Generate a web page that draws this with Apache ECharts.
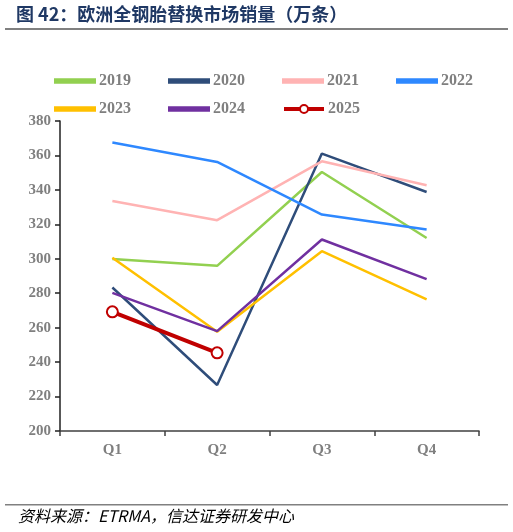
<!DOCTYPE html>
<html><head><meta charset="utf-8">
<script src="https://cdn.jsdelivr.net/npm/echarts@6/dist/echarts.min.js"></script>
<style>html,body{margin:0;padding:0;background:#fff}#c{width:513px;height:532px}</style>
</head><body><div id="c"></div>
<script>
const categories = ['Q1','Q2','Q3','Q4'];
const y2019 = [299.8, 295.9, 350.4, 312.1];
const y2020 = [283.3, 226.7, 361.1, 338.8];
const y2021 = [333.6, 322.4, 356.6, 342.7];
const y2022 = [367.5, 356.2, 325.7, 317.0];
const y2023 = [300.6, 257.6, 304.4, 276.4];
const y2024 = [280.2, 258.0, 311.2, 288.2];
const y2025 = [269.2, 245.4];
const seriesNames = ['2019','2020','2021','2022','2023','2024','2025'];
const seriesData = [y2019, y2020, y2021, y2022, y2023, y2024, y2025];
const colors = ['#92D050','#2F4D7A','#FFB3B3','#2E88FF','#FFC000','#7030A0','#C00000'];

const chart = echarts.init(document.getElementById('c'), null, {renderer:'canvas'});
const legendPos = [[54,73],[168,73],[282,73],[396,73],[54,101],[168,101],[282,101]];
const legends = seriesNames.map((n,i)=>{
  const isLast = n==='2025';
  const lg = {
    data:[n], left:legendPos[i][0], top:legendPos[i][1], padding:0,
    itemWidth:40, itemHeight: isLast ? 10 : 3.5, itemGap:0,
    textStyle:{fontFamily:'Liberation Serif', fontWeight:'bold', fontSize:16, color:'#7F7F7F', padding:[0,0,0,-1]}
  };
  if (isLast) { lg.lineStyle = {width:4}; }
  else { lg.icon = 'rect'; }
  return lg;
});
const series = seriesNames.map((n,i)=>{
  const isLast = n==='2025';
  return {
    name:n, type:'line', data:seriesData[i],
    symbol: isLast ? 'emptyCircle' : 'none',
    symbolSize: isLast ? 11 : 0,
    showSymbol: isLast,
    lineStyle:{color:colors[i], width: isLast ? 4 : 2.5},
    itemStyle:{color:colors[i], borderColor:colors[i], borderWidth:1.5},
    z: isLast ? 10 : 2,
    animation:false
  };
});
chart.setOption({
  animation:false,
  color:colors,
  legend: legends,
  grid:{left:60, right:34, top:121, bottom:101},
  xAxis:{
    type:'category', data:categories, boundaryGap:true,
    axisLine:{lineStyle:{color:'#404040', width:1.5}},
    axisTick:{show:true, length:5, lineStyle:{color:'#404040', width:1.5}},
    axisLabel:{fontFamily:'Liberation Serif', fontWeight:'bold', fontSize:15, color:'#7F7F7F', margin:12}
  },
  yAxis:{
    type:'value', min:200, max:380, interval:20,
    splitLine:{show:false},
    axisLine:{show:true, lineStyle:{color:'#202020', width:1.5}},
    axisTick:{show:true, inside:false, length:5, lineStyle:{color:'#202020', width:1.5}},
    axisLabel:{fontFamily:'Liberation Serif', fontWeight:'bold', fontSize:15, color:'#7F7F7F', margin:9}
  },
  series: series,
  graphic:[
    {type:'text', left:16, top:5, style:{text:'图 42：欧洲全钢胎替换市场销量（万条）', font:'bold 18px "Noto Sans CJK SC", sans-serif', fill:'#1F3864'}},
    {type:'rect', shape:{x:5, y:28, width:503, height:2}, style:{fill:'#808080'}},
    {type:'rect', shape:{x:5, y:504, width:503, height:1.5}, style:{fill:'#808080'}},
    {type:'text', left:18, top:508, style:{text:'资料来源：ETRMA，信达证券研发中心', font:'italic 16px "Noto Sans CJK SC", sans-serif', fill:'#000'}}
  ]
});
</script></body></html>
